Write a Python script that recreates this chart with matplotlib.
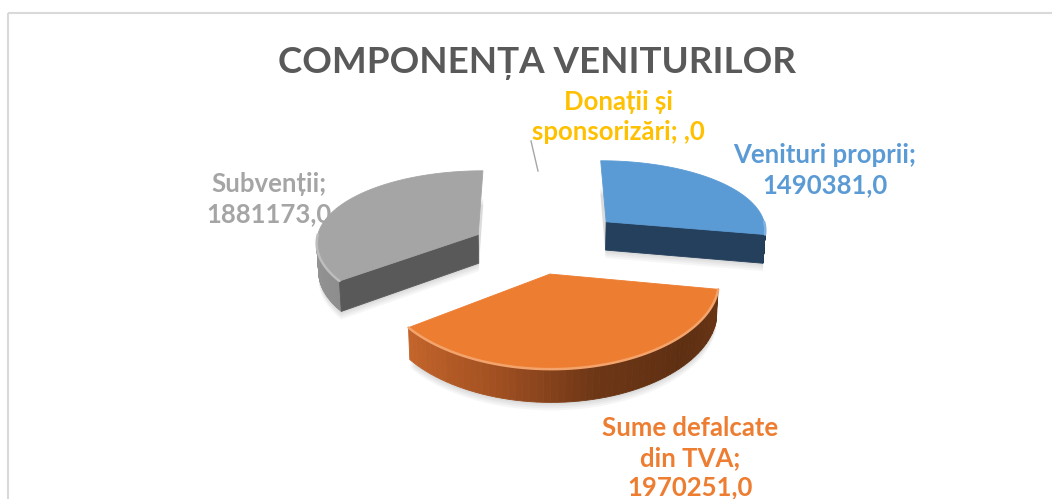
import numpy as np
import matplotlib.pyplot as plt
from matplotlib.patches import Polygon, Rectangle
from matplotlib.colors import LinearSegmentedColormap

plt.rcParams['font.family'] = ['Lato', 'DejaVu Sans']

# chart data
names = ["Venituri proprii", "Sume defalcate\ndin TVA", "Subvenții", "Donații și\nsponsorizări"]
values = [1490381.0, 1970251.0, 1881173.0, 0.0]
top_colors = ["#5B9BD5", "#ED7D31", "#A5A5A5", "#FFC000"]
cut_colors = ["#25405C", "#7A3C16", "#595959", "#B38600"]
explode = [0.57, 0.34, 0.41, 0.0]
title = "COMPONENȚA VENITURILOR"

# label layout (pixels) and line break between name and value
label_pos = [(825, 170), (690, 458), (269, 199), (618, 117)]
label_sep = ["\n", "\n", "\n", " "]

# view settings (3D pie projected into pixel space)
W, H = 1052, 499
CX, CY = 537, 248
S = 163.0
KX, KY = 0.10, 0.1466
ALPHA = np.radians(27.5)
THICK = 0.205
sa, ca = np.sin(ALPHA), np.cos(ALPHA)


def project(X, Y, Z):
    X, Y, Z = np.broadcast_arrays(np.atleast_1d(X), np.atleast_1d(Y), np.atleast_1d(Z))
    depth = Y * ca - Z * sa
    yc = Y * sa + Z * ca
    return np.column_stack([CX + S * X / (1 + KX * depth),
                            CY - S * yc / (1 + KY * depth)])


def fmt(v):
    whole = f"{v:.0f}" if v else ""
    return whole + ",0"


side_cmaps = {
    0: LinearSegmentedColormap.from_list("b", ["#1F3B57", "#1F3B57"]),
    1: LinearSegmentedColormap.from_list("o", [(0, "#6A3514"), (0.25, "#5E2F12"),
                                                (0.5, "#6E3716"), (0.75, "#A55222"),
                                                (1, "#C4652B")]),
    2: LinearSegmentedColormap.from_list("g", ["#8E8E8E", "#A3A3A3"]),
}
rim_colors = ["#7FB2E0", "#F3A46C", "#BDBDBD", "#FFD966"]

fig = plt.figure(figsize=(W / 100, H / 100), dpi=100)
ax = fig.add_axes([0, 0, 1, 1])
ax.set_xlim(0, W)
ax.set_ylim(H, 0)
ax.axis('off')

ax.add_patch(Rectangle((8, 13), W + 20, H + 20, fill=False, ec="#D9D9D9", lw=1.5))

total = sum(values)
fracs = [v / total for v in values]
starts = np.concatenate([[0], np.cumsum(fracs)[:-1]]) * 2 * np.pi
ends = starts + np.array(fracs) * 2 * np.pi


def offset(i):
    mid = (starts[i] + ends[i]) / 2
    return explode[i] * np.sin(mid), explode[i] * np.cos(mid)


# soft shadows below the slices
for i in range(len(values)):
    if values[i] == 0:
        continue
    ox, oy = offset(i)
    th = np.linspace(starts[i], ends[i], 200)
    bot = np.vstack([project(ox, oy, -THICK),
                     project(ox + np.sin(th), oy + np.cos(th), -THICK)])
    for d in (2, 4, 6, 8):
        ax.add_patch(Polygon(bot + [0, d], closed=True, fc="#000000", ec="none", alpha=0.035))

# paint far slices first
order = sorted(range(len(values)), key=lambda i: -offset(i)[1])
for i in order:
    if values[i] == 0:
        continue
    a0, a1 = starts[i], ends[i]
    ox, oy = offset(i)
    th = np.linspace(a0, a1, 200)
    top_arc = project(ox + np.sin(th), oy + np.cos(th), 0)
    ctop = project(ox, oy, 0)[0]
    cbot = project(ox, oy, -THICK)[0]

    # outer side, front half only
    lo, hi = max(a0, np.pi / 2), min(a1, 1.5 * np.pi)
    if hi > lo:
        n = 60
        ts = np.linspace(lo, hi, n + 1)
        for j in range(n):
            tt = np.linspace(ts[j], ts[j + 1], 4)
            up = project(ox + np.sin(tt), oy + np.cos(tt), 0)
            dn = project(ox + np.sin(tt), oy + np.cos(tt), -THICK)
            pos = ((ts[j] + ts[j + 1]) / 2 - a0) / (a1 - a0)
            col = side_cmaps[i](pos)
            ax.add_patch(Polygon(np.vstack([up, dn[::-1]]), closed=True,
                                 fc=col, ec=col, lw=0.6))

    # cut faces that turn toward the viewer
    for edge, normal in ((a0, a0 - np.pi / 2), (a1, a1 + np.pi / 2)):
        if np.cos(normal) < -1e-6:
            p_top = project(ox + np.sin(edge), oy + np.cos(edge), 0)[0]
            p_bot = project(ox + np.sin(edge), oy + np.cos(edge), -THICK)[0]
            ax.add_patch(Polygon([ctop, p_top, p_bot, cbot], closed=True,
                                 fc=cut_colors[i], ec=cut_colors[i], lw=0.6))

    ax.add_patch(Polygon(np.vstack([ctop, top_arc]), closed=True,
                         fc=top_colors[i], ec=top_colors[i], lw=0.6))

    # light bevel along the front rim
    if hi > lo:
        tt = np.linspace(lo, hi, 100)
        rim = project(ox + np.sin(tt), oy + np.cos(tt), 0)
        ax.plot(rim[:, 0], rim[:, 1], color=rim_colors[i], lw=1.8, solid_capstyle='round')

for i in range(len(values)):
    x, y = label_pos[i]
    ax.text(x, y, names[i] + ";" + label_sep[i] + fmt(values[i]), color=top_colors[i],
            fontsize=18.5, fontweight='bold', ha='center', va='center',
            linespacing=1.28)

ax.plot([531, 538], [141, 171], color="#A6A6A6", lw=1)

ax.text(537, 63, title, color="#595959", fontsize=26.5, fontweight='bold',
        ha='center', va='center')

fig.savefig("out.png", dpi=100)
